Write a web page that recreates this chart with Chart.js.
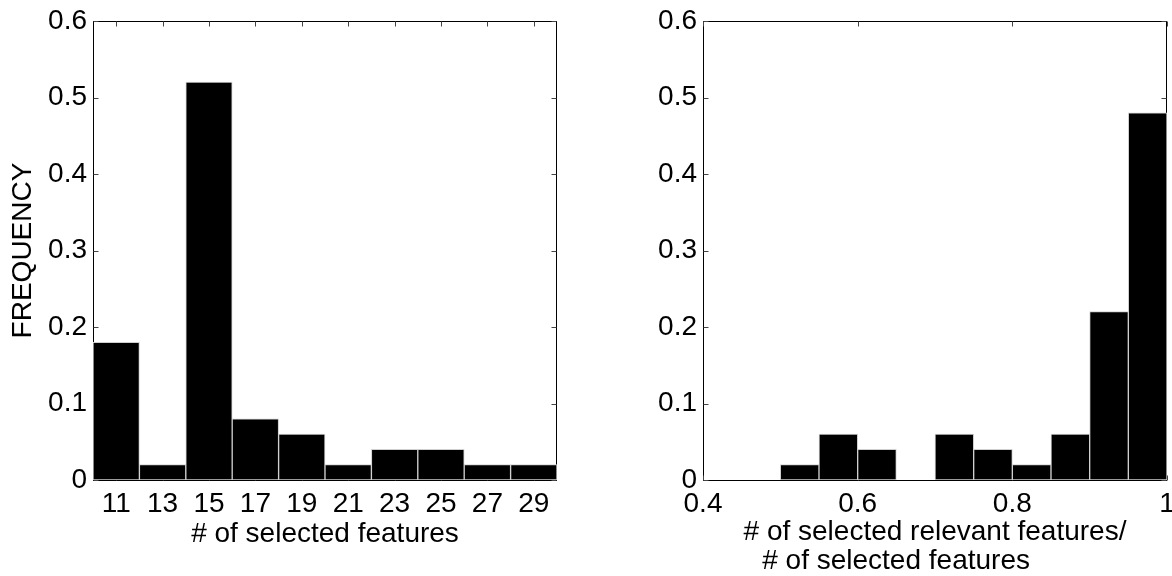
<!DOCTYPE html>
<html>
<head>
<meta charset="utf-8">
<script src="https://cdn.jsdelivr.net/npm/chart.js@4"></script>
<style>
  body { margin: 0; background: #fff; }
  .panel { position: absolute; top: 0; height: 576px; }
  #left { left: 0; width: 586px; }
  #right { left: 600px; width: 572px; }
</style>
</head>
<body>
<div class="panel" id="left"><canvas id="countChart"></canvas></div>
<div class="panel" id="right"><canvas id="ratioChart"></canvas></div>
<script>
const countLabels = ['11', '13', '15', '17', '19', '21', '23', '25', '27', '29'];
const countFreq = [0.18, 0.02, 0.52, 0.08, 0.06, 0.02, 0.04, 0.04, 0.02, 0.02];

const ratioBins = [0.425, 0.475, 0.525, 0.575, 0.625, 0.675, 0.725, 0.775, 0.825, 0.875, 0.925, 0.975];
const ratioFreq = [0, 0, 0.02, 0.06, 0.04, 0, 0.06, 0.04, 0.02, 0.06, 0.22, 0.48];

const fontFamily = '"Liberation Sans", Arial, sans-serif';
const tickFont = { family: fontFamily, size: 28 };
const shortNum = v => String(+Number(v).toFixed(2));

// matlab style box with inward ticks, drawn under the bars
const frame = {
  id: 'frame',
  beforeDatasetsDraw(chart) {
    const { ctx, chartArea: a, scales } = chart;
    const l = Math.round(a.left) + 0.5, r = Math.round(a.right) - 0.5;
    const t = Math.round(a.top) + 0.5, b = Math.round(a.bottom) + 0.5;
    ctx.save();
    ctx.strokeStyle = '#000';
    ctx.lineWidth = 1;
    ctx.strokeRect(l, t, r - l, b - t);
    ctx.strokeStyle = '#444';
    ctx.beginPath();
    scales.x.ticks.forEach((tk, i) => {
      const px = Math.round(scales.x.getPixelForTick(i)) + 0.5;
      ctx.moveTo(px, t); ctx.lineTo(px, t + 5);
      ctx.moveTo(px, b); ctx.lineTo(px, b - 5);
    });
    scales.y.ticks.forEach((tk, i) => {
      const py = Math.round(scales.y.getPixelForTick(i)) + 0.5;
      ctx.moveTo(l, py); ctx.lineTo(l + 5, py);
      ctx.moveTo(r, py); ctx.lineTo(r - 5, py);
    });
    ctx.stroke();
    ctx.restore();
  }
};

function yAxis(width, title) {
  return {
    min: 0, max: 0.6,
    ticks: { stepSize: 0.1, color: '#000', font: tickFont, padding: 6, callback: shortNum },
    grid: { display: false, drawTicks: false },
    border: { display: false },
    title: {
      display: !!title, text: title, color: '#000',
      font: { family: fontFamily, size: 28, lineHeight: 1.2 },
      padding: { top: 6, bottom: 0 }
    },
    afterFit(s) { s.width = width; s.paddingTop = 0; s.paddingBottom = 0; }
  };
}

function xTitle(text, lineHeight, pad) {
  return {
    display: true, text: text, color: '#000',
    font: { family: fontFamily, size: 28, lineHeight: lineHeight },
    padding: { top: 0, bottom: pad }
  };
}

function barSet(data) {
  return {
    data: data,
    backgroundColor: '#000',
    borderColor: '#cfcfcf',
    borderWidth: 1,
    borderSkipped: false,
    barPercentage: 1,
    categoryPercentage: 1
  };
}

new Chart('countChart', {
  type: 'bar',
  data: { labels: countLabels, datasets: [barSet(countFreq)] },
  options: {
    responsive: true, maintainAspectRatio: false, animation: false,
    layout: { padding: { top: 21, right: 29, left: 0, bottom: 0 } },
    plugins: { legend: { display: false }, tooltip: { enabled: false } },
    scales: {
      x: {
        ticks: { color: '#000', font: tickFont, padding: 7 },
        grid: { display: false, drawTicks: false },
        border: { display: false },
        title: xTitle('# of selected features', 1.2, 25),
        afterFit(s) { s.height = 96; s.paddingLeft = 0; s.paddingRight = 0; }
      },
      y: yAxis(93, 'FREQUENCY')
    }
  },
  plugins: [frame]
});

new Chart('ratioChart', {
  type: 'bar',
  data: { datasets: [barSet(ratioBins.map((x, i) => ({ x: x, y: ratioFreq[i] })))] },
  options: {
    responsive: true, maintainAspectRatio: false, animation: false,
    layout: { padding: { top: 21, right: 5, left: 0, bottom: 0 } },
    plugins: { legend: { display: false }, tooltip: { enabled: false } },
    scales: {
      x: {
        type: 'linear', min: 0.4, max: 1, offset: false,
        ticks: { stepSize: 0.2, color: '#000', font: tickFont, padding: 7, callback: shortNum },
        grid: { display: false, drawTicks: false },
        border: { display: false },
        title: xTitle(['# of selected relevant features/', '# of selected features          '], 1.05, 0),
        afterFit(s) { s.height = 96; s.paddingLeft = 0; s.paddingRight = 0; }
      },
      y: yAxis(103, '')
    }
  },
  plugins: [frame]
});
</script>
</body>
</html>
